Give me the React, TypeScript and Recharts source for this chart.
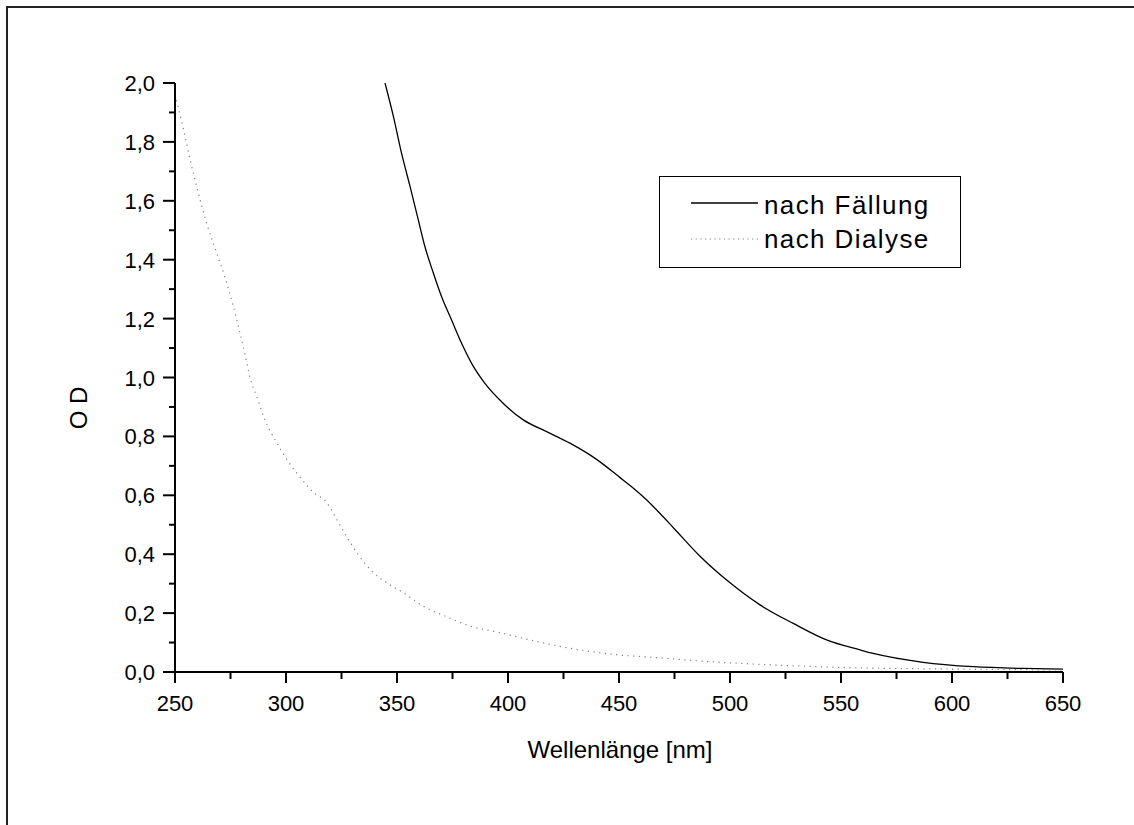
import { LineChart, Line, XAxis, YAxis, Legend, Label } from "recharts";

// Wellenlänge (nm) / OD
const fallungNm = [344.6, 348.4, 352.1, 355.9, 359.6, 362.6, 366.4, 370.1, 374.6, 379.1, 383.6, 389.6, 397.9, 406.9, 417.4, 427.9, 439.9, 450.5, 456.5, 462.5, 468.5, 474.5, 486.5, 498.5, 513.5, 528.5, 543.5, 558.6, 564.5, 587, 609.6, 632, 650];
const fallungOd = [2.0, 1.886, 1.76, 1.648, 1.535, 1.444, 1.354, 1.274, 1.195, 1.116, 1.048, 0.98, 0.912, 0.856, 0.816, 0.777, 0.722, 0.66, 0.624, 0.584, 0.538, 0.49, 0.393, 0.312, 0.228, 0.165, 0.109, 0.075, 0.063, 0.033, 0.018, 0.012, 0.01];

const dialyseNm = [250, 253.6, 256.8, 260.4, 264.4, 268.9, 272.5, 276, 279.3, 281.5, 283.8, 286.9, 290.5, 295.9, 300.5, 306.3, 312.2, 318.5, 323, 327.5, 332, 337.8, 345.5, 352.7, 361.7, 372.5, 382.9, 395, 409.9, 424.8, 446, 468.5, 491, 513.5, 558.6, 600, 650];
const dialyseOd = [1.96, 1.85, 1.74, 1.63, 1.52, 1.42, 1.34, 1.25, 1.15, 1.08, 1.0, 0.934, 0.856, 0.778, 0.72, 0.662, 0.611, 0.574, 0.516, 0.458, 0.404, 0.35, 0.302, 0.27, 0.224, 0.187, 0.156, 0.136, 0.109, 0.085, 0.061, 0.048, 0.035, 0.026, 0.014, 0.01, 0.007];

const xTicks = [250, 275, 300, 325, 350, 375, 400, 425, 450, 475, 500, 525, 550, 575, 600, 625, 650];
const yTicks = [0, 0.1, 0.2, 0.3, 0.4, 0.5, 0.6, 0.7, 0.8, 0.9, 1.0, 1.1, 1.2, 1.3, 1.4, 1.5, 1.6, 1.7, 1.8, 1.9, 2.0];

const seriesNames = ["nach Fällung", "nach Dialyse"];

const fallungData = fallungNm.map((x, i) => ({ x, od: fallungOd[i] }));
const dialyseData = dialyseNm.map((x, i) => ({ x, od: dialyseOd[i] }));

const FONT = "'Liberation Sans', Arial, Helvetica, sans-serif";

function XTick(props: any) {
  const { x, y, payload } = props;
  const major = payload.value % 50 === 0;
  return (
    <g>
      <line x1={x} x2={x} y1={y} y2={y + (major ? 11 : 7)} stroke="#000" strokeWidth={2} />
      {major && (
        <text x={x} y={y + 39} textAnchor="middle" fontSize={22} fontFamily={FONT} fill="#000">
          {payload.value}
        </text>
      )}
    </g>
  );
}

function YTick(props: any) {
  const { x, y, payload } = props;
  const major = Math.round(payload.value * 10) % 2 === 0;
  return (
    <g>
      <line x1={x - (major ? 12 : 6)} x2={x} y1={y} y2={y} stroke="#000" strokeWidth={2} />
      {major && (
        <text x={x - 20} y={y + 8} textAnchor="end" fontSize={22} fontFamily={FONT} fill="#000">
          {payload.value.toFixed(1).replace(".", ",")}
        </text>
      )}
    </g>
  );
}

function LegendBox() {
  return (
    <div
      style={{
        width: 300,
        height: 90,
        border: "1px solid #000",
        background: "#fff",
        fontFamily: FONT,
        fontSize: 26,
        letterSpacing: 1.4,
        color: "#000",
        position: "relative",
      }}
    >
      {seriesNames.map((name, i) => (
        <div key={name} style={{ position: "absolute", left: 0, top: 11 + i * 34, height: 34, display: "flex", alignItems: "center" }}>
          <svg width={104} height={34}>
            <line
              x1={31}
              x2={98}
              y1={i === 0 ? 15 : 17}
              y2={i === 0 ? 15 : 17}
              stroke={i === 0 ? "#000" : "#808080"}
              strokeWidth={i === 0 ? 1.3 : 1.2}
              strokeDasharray={i === 0 ? undefined : "1.2 3.5"}
            />
          </svg>
          <span style={{ lineHeight: "34px" }}>{name}</span>
        </div>
      ))}
    </div>
  );
}

export default function App() {
  return (
    <div style={{ position: "absolute", left: 0, top: 0, width: 1134, height: 825, background: "#fff", overflow: "hidden" }}>
      <div style={{ position: "absolute", left: 6, top: 6, width: 1300, height: 1000, border: "2px solid #222" }} />
      <div style={{ position: "absolute", left: 0, top: 0 }}>
        <LineChart width={1134} height={825} margin={{ top: 83, right: 71, bottom: 0, left: 0 }}>
          <XAxis
            dataKey="x"
            type="number"
            domain={[250, 650]}
            ticks={xTicks}
            interval={0}
            allowDataOverflow
            height={153}
            tickSize={0}
            tickMargin={0}
            tick={<XTick />}
            axisLine={{ stroke: "#000", strokeWidth: 2 }}
            tickLine={false}
          >
            <Label
              content={() => (
                <text x={620} y={758} textAnchor="middle" fontSize={24} fontFamily={FONT} fill="#000">
                  Wellenlänge [nm]
                </text>
              )}
            />
          </XAxis>
          <YAxis
            dataKey="od"
            type="number"
            domain={[0, 2]}
            ticks={yTicks}
            interval={0}
            allowDataOverflow
            width={175}
            tickSize={0}
            tickMargin={0}
            tick={<YTick />}
            axisLine={{ stroke: "#000", strokeWidth: 2 }}
            tickLine={false}
          >
            <Label
              content={() => (
                <text
                  x={87}
                  y={408}
                  textAnchor="middle"
                  fontSize={24}
                  fontFamily={FONT}
                  fill="#000"
                  transform="rotate(-90 87 408)"
                >
                  O D
                </text>
              )}
            />
          </YAxis>
          <Legend
            layout="horizontal"
            verticalAlign="middle"
            align="center"
            content={<LegendBox />}
            wrapperStyle={{ position: "absolute", left: 659, top: 176, width: 302, height: 92 }}
          />
          <Line
            data={fallungData}
            dataKey="od"
            name={seriesNames[0]}
            type="monotone"
            stroke="#000"
            strokeWidth={1.3}
            dot={false}
            isAnimationActive={false}
          />
          <Line
            data={dialyseData}
            dataKey="od"
            name={seriesNames[1]}
            type="monotone"
            stroke="#808080"
            strokeWidth={1.2}
            strokeDasharray="1.2 4.5"
            dot={false}
            isAnimationActive={false}
          />
        </LineChart>
      </div>
    </div>
  );
}
